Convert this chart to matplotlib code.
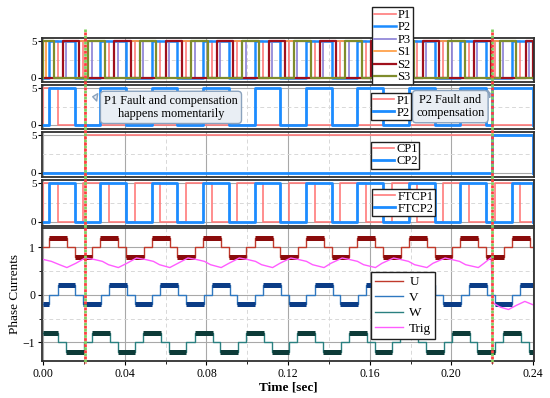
import matplotlib.pyplot as plt
from matplotlib.transforms import blended_transform_factory
from matplotlib.ticker import MultipleLocator

plt.rcParams['font.family'] = ['Liberation Serif', 'DejaVu Serif']
plt.rcParams['font.size'] = 8

# all times in ms
t_end = 240.0
fault_t = [20.4, 220.0]

# on-intervals of the gate signals (value 5 while on)
p1_on = [(0, 7.0), (19.6, 32.2), (44.8, 57.4), (70.0, 82.6), (95.2, 107.8), (120.4, 133.0),
         (145.6, 158.2), (170.8, 183.4), (196.0, 208.6), (221.2, 233.8)]
p2_on = [(2.8, 15.4), (28.0, 40.6), (53.2, 65.8), (78.4, 91.0), (103.6, 116.2), (128.8, 141.4),
         (154.0, 166.6), (179.2, 191.8), (204.4, 217.0), (229.6, 240.0)]
p3_on = [(11.2, 23.8), (36.4, 49.0), (61.6, 74.2), (86.8, 99.4), (112.0, 124.6), (137.2, 149.8),
         (162.4, 175.0), (187.6, 200.2), (212.8, 225.4), (238.0, 240.0)]
s1_on = [(0, 1.5), (17.6, 22.0), (42.8, 47.2), (68.0, 72.4), (93.2, 97.6), (118.4, 122.8),
         (143.6, 148.0), (168.8, 173.2), (194.0, 198.4), (219.2, 223.6)]
s2_on = [(9.6, 17.6), (34.8, 42.8), (60.0, 68.0), (85.2, 93.2), (110.4, 118.4), (135.6, 143.6),
         (160.8, 168.8), (186.0, 194.0), (211.2, 219.2), (236.4, 240.0)]
s3_on = [(0, 5.1), (22.0, 30.3), (47.2, 55.5), (72.4, 80.7), (97.6, 105.9), (122.8, 131.1),
         (148.0, 156.3), (173.2, 181.5), (198.4, 206.7), (223.6, 231.9)]

# panel 2: faulty P1 / P2
p1f_on = [(0, 7.0)]
p2f_on = [(2.8, 15.4), (28.0, 40.6), (53.2, 65.8), (78.4, 91.0), (103.6, 116.2), (128.8, 141.4),
          (154.0, 166.6), (179.2, 191.8), (204.4, 217.0), (220.0, 240.0)]
# panel 3: compensation signals
cp1_on = [(20.4, 240.0)]
cp2_on = [(220.0, 240.0)]

# phase currents: switching instants and level after each instant
u_edges = [0, 2.8, 11.6, 15.4, 24.0, 28.0, 36.8, 40.6, 49.2, 53.2, 62.0, 65.8, 74.4, 78.4, 87.2,
           91.0, 99.6, 103.6, 112.4, 116.2, 124.8, 128.8, 137.6, 141.4, 150.0, 154.0, 162.8,
           166.6, 175.2, 179.2, 188.0, 191.8, 200.4, 204.4, 213.2, 217.0, 225.6, 229.6, 238.4]
u_levels = [0, .2, 0, -.2, 0, .2, 0, -.2, 0, .2, 0, -.2, 0, .2, 0, -.2, 0, .2, 0, -.2, 0, .2, 0,
            -.2, 0, .2, 0, -.2, 0, .2, 0, -.2, 0, .2, 0, -.2, 0, .2, 0]
v_edges = [0, 3.0, 7.0, 15.8, 19.6, 28.2, 32.2, 41.0, 44.8, 53.4, 57.4, 66.2, 70.0, 78.6, 82.6,
           91.4, 95.2, 103.8, 107.8, 116.6, 120.4, 129.0, 133.0, 141.8, 145.6, 154.2, 158.2,
           167.0, 170.8, 179.4, 183.4, 192.2, 196.0, 204.6, 208.6, 217.4, 221.2, 229.8, 233.8]
v_levels = [-.2, 0, .2, 0, -.2, 0, .2, 0, -.2, 0, .2, 0, -.2, 0, .2, 0, -.2, 0, .2, 0, -.2, 0,
            .2, 0, -.2, 0, .2, 0, -.2, 0, .2, 0, -.2, 0, .2, 0, -.2, 0, .2]
w_edges = [0, 7.4, 11.2, 19.8, 23.8, 32.6, 36.4, 45.0, 49.0, 57.8, 61.6, 70.2, 74.2, 83.0, 86.8,
           95.4, 99.4, 108.2, 112.0, 120.6, 124.6, 133.4, 137.2, 145.8, 149.8, 158.6, 162.4,
           171.0, 175.0, 183.8, 187.6, 196.2, 200.2, 209.0, 212.8, 221.4, 225.4, 234.2, 238.0]
w_levels = [.2, 0, -.2, 0, .2, 0, -.2, 0, .2, 0, -.2, 0, .2, 0, -.2, 0, .2, 0, -.2, 0, .2, 0,
            -.2, 0, .2, 0, -.2, 0, .2, 0, -.2, 0, .2, 0, -.2, 0, .2, 0, -.2]

# trigger signal samples
trig_t = [0, 4, 8, 11.6, 16, 20.5, 25, 29, 32, 36.8, 41, 45.7, 50, 54, 57, 62.0, 66, 70.9, 75,
          79, 82, 87.2, 91, 96.1, 100, 104, 107, 112.4, 116, 121.3, 125, 129, 132, 137.6, 141,
          146.5, 150, 154, 157, 162.8, 166, 171.7, 175, 179, 182, 188.0, 191, 196.9, 200, 204,
          207, 213.2, 216, 219.5, 220.3, 224, 228, 232, 236, 240]
trig_v = [0.74, 0.70, 0.63, 0.57, 0.66, 0.77, 0.74, 0.70, 0.63, 0.57, 0.66, 0.77, 0.74, 0.70,
          0.63, 0.57, 0.66, 0.77, 0.74, 0.70, 0.63, 0.57, 0.66, 0.77, 0.74, 0.70, 0.63, 0.57,
          0.66, 0.77, 0.74, 0.70, 0.63, 0.57, 0.66, 0.77, 0.74, 0.70, 0.63, 0.57, 0.66, 0.77,
          0.74, 0.70, 0.63, 0.57, 0.66, 0.77, 0.74, 0.70, 0.63, 0.57, 0.66, 0.78, -0.17, -0.26,
          -0.31, -0.22, -0.14, -0.21]

x_ticks = [0.00, 0.04, 0.08, 0.12, 0.16, 0.20, 0.24]


def pulse_xy(on, lo=0.0, hi=5.0):
    xs, ys = [0.0], [lo]
    for a, b in on:
        xs += [a, a, b, b]
        ys += [lo, hi, hi, lo]
    xs.append(t_end)
    ys.append(ys[-1])
    return [x / 1000 for x in xs], ys


def style_frame(ax):
    for s in ax.spines.values():
        s.set_linewidth(1.3)
        s.set_color('#303030')


def style_gate_axes(ax):
    ax.set_xlim(-0.0006, 0.2405)
    ax.set_ylim(-0.55, 5.45)
    ax.set_yticks([0, 5])
    ax.yaxis.set_minor_locator(MultipleLocator(2.5))
    ax.xaxis.set_major_locator(MultipleLocator(0.04))
    ax.xaxis.set_minor_locator(MultipleLocator(0.02))
    ax.tick_params(axis='x', which='both', length=0, labelbottom=False)
    ax.tick_params(axis='y', which='major', length=3, pad=1, labelsize=8)
    ax.tick_params(axis='y', which='minor', length=0)
    ax.grid(True, which='major', color='#a8a8a8', lw=0.8)
    ax.grid(True, which='minor', color='#d8d8d8', lw=0.7, ls=(0, (4, 3)))
    ax.set_axisbelow(True)
    style_frame(ax)


fig = plt.figure(figsize=(5.5, 3.98), dpi=100)
H = 398.0


def add_axes(top, bottom):
    return fig.add_axes([42 / 550, 1 - bottom / H, 492 / 550, (bottom - top) / H])


ax1 = add_axes(38, 82)
ax2 = add_axes(85, 129)
ax3 = add_axes(132, 177)
ax4 = add_axes(180, 226)
ax5 = add_axes(228, 361)

leg_kw = dict(loc='upper left', bbox_transform=fig.transFigure, frameon=True, fancybox=False,
              framealpha=1, edgecolor='#202020', fontsize=9, handlelength=1.75,
              handletextpad=0.15, labelspacing=0.0, borderpad=0.12, borderaxespad=0)

# panel 1
gate_cols = ['#ff7b7b', '#1c8cff', '#8a7fd6', '#ff9a3c', '#a0101c', '#7f8c2c']
gate_lw = [1.2, 1.8, 1.2, 1.2, 1.6, 1.6]
gate_names = ['P1', 'P2', 'P3', 'S1', 'S2', 'S3']
for on, c, lw, n in zip([p1_on, p2_on, p3_on, s1_on, s2_on, s3_on], gate_cols, gate_lw, gate_names):
    x, y = pulse_xy(on)
    ax1.plot(x, y, color=c, lw=lw, label=n)
style_gate_axes(ax1)
ax1.legend(bbox_to_anchor=(372 / 550, 1 - 7 / H),
           **dict(leg_kw, labelspacing=0.04, borderpad=0.15)).set_zorder(40)

# panel 2
x, y = pulse_xy(p1f_on)
ax2.plot(x, y, color='#ff7b7b', lw=1.2, label='P1')
x, y = pulse_xy(p2f_on)
ax2.plot(x, y, color='#1c8cff', lw=2.0, label='P2')
style_gate_axes(ax2)
ax2.legend(bbox_to_anchor=(371 / 550, 1 - 93 / H), **leg_kw).set_zorder(40)

# panel 3
x, y = pulse_xy(cp1_on)
ax3.plot(x, y, color='#ff7b7b', lw=1.2, label='CP1')
x, y = pulse_xy(cp2_on)
ax3.plot(x, y, color='#1c8cff', lw=2.0, label='CP2')
style_gate_axes(ax3)
ax3.legend(bbox_to_anchor=(371 / 550, 1 - 142 / H), **leg_kw)

# panel 4
x, y = pulse_xy(p1_on)
ax4.plot(x, y, color='#ff7b7b', lw=1.2, label='FTCP1')
x, y = pulse_xy(p2_on)
ax4.plot(x, y, color='#1c8cff', lw=2.0, label='FTCP2')
style_gate_axes(ax4)
ax4.legend(bbox_to_anchor=(372 / 550, 1 - 189 / H), **leg_kw)

# panel 5 - phase currents
phases = [(u_edges, u_levels, 1.0, '#c0392b', '#8a0b0b', 'U'),
          (v_edges, v_levels, 0.0, '#2f78c0', '#0b3c86', 'V'),
          (w_edges, w_levels, -1.0, '#2a8080', '#0d3b38', 'W')]
for edges, levels, off, c_line, c_blk, name in phases:
    tt = [e / 1000 for e in edges] + [t_end / 1000]
    yy = [lv + off for lv in levels] + [levels[-1] + off]
    ax5.plot(tt, yy, drawstyle='steps-post', color=c_line, lw=1.0, label=name)
    for i, lv in enumerate(levels):
        if lv != 0:
            ax5.plot([tt[i], tt[i + 1]], [lv + off, lv + off], color=c_blk, lw=3.6,
                     solid_capstyle='butt')
ax5.plot([t / 1000 for t in trig_t], trig_v, color='#ff5cff', lw=1.0, label='Trig')

ax5.set_xlim(-0.0006, 0.2405)
ax5.set_ylim(-1.39, 1.40)
ax5.set_yticks([-1, 0, 1])
ax5.yaxis.set_minor_locator(MultipleLocator(0.5))
ax5.set_xticks(x_ticks)
ax5.set_xticklabels(['%.2f' % v for v in x_ticks])
ax5.xaxis.set_minor_locator(MultipleLocator(0.02))
ax5.tick_params(axis='both', which='major', length=3, labelsize=8.5, pad=2)
ax5.tick_params(axis='both', which='minor', length=2)
ax5.grid(True, which='major', color='#a8a8a8', lw=0.8)
ax5.grid(True, which='minor', color='#d8d8d8', lw=0.7, ls=(0, (4, 3)))
ax5.set_axisbelow(True)
style_frame(ax5)
ax5.set_ylabel('Phase Currents', fontsize=9.5, labelpad=1)
ax5.set_xlabel('Time [sec]', fontsize=9.5, fontweight='bold', labelpad=1)
h, l = ax5.get_legend_handles_labels()
ax5.legend(h, l, bbox_to_anchor=(371 / 550, 1 - 272 / H),
           **dict(leg_kw, fontsize=9.5, handlelength=2.1, handletextpad=0.5,
                  labelspacing=0.25, borderpad=0.3))

# fault markers spanning all panels
tr = blended_transform_factory(ax5.transData, fig.transFigure)
for ft in fault_t:
    fig.add_artist(plt.Line2D([ft / 1000, ft / 1000], [1 - 29 / H, 1 - 363 / H], transform=tr,
                              color='#7fd060', lw=2.0, ls=(0, (1, 1.2)), zorder=20))
    fig.add_artist(plt.Line2D([ft / 1000, ft / 1000], [1 - 29 / H, 1 - 363 / H], transform=tr,
                              color='#ff4040', lw=2.0, ls=(1.1, (1, 1.2)), zorder=21))

# callouts
box = dict(boxstyle='round,pad=0.3', fc='#e9eef4', ec='#8aa2bd', lw=1)
arr = dict(arrowstyle='wedge,tail_width=0.6', fc='#e9eef4', ec='#8aa2bd', lw=1)
ax2.annotate('P1 Fault and compensation\nhappens momentarily', xy=(0.0229, 3.9),
             xytext=(0.0626, 2.4), ha='center', va='center', fontsize=8.8, linespacing=1.1,
             bbox=box, arrowprops=arr, zorder=30)
ax2.annotate('P2 Fault and\ncompensation', xy=(0.2190, 4.3), xytext=(0.1995, 2.5),
             ha='center', va='center', fontsize=8.8, linespacing=1.1, bbox=box,
             arrowprops=arr, zorder=30)

fig.savefig('out.png', dpi=100)
